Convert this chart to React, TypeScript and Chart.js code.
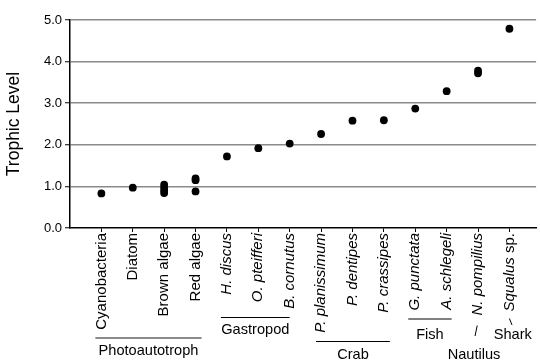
import React, { useEffect, useRef } from 'react';
import { Chart, registerables } from 'chart.js';

Chart.register(...registerables);

// ---------- data ----------
const categories = [
  'Cyanobacteria', 'Diatom', 'Brown algae', 'Red algae',
  'H. discus', 'O. pteifferi', 'B. cornutus',
  'P. planissimum', 'P. dentipes', 'P. crassipes',
  'G. punctata', 'A. schlegeli', 'N. pompilius', 'Squalus sp.',
];
const italicNames = [false, false, false, false, true, true, true, true, true, true, true, true, true, true];

const trophicLevels: number[][] = [
  [0.83],
  [0.97],
  [1.04, 0.97, 0.9, 0.84],
  [1.19, 1.15, 0.88],
  [1.72],
  [1.92],
  [2.03],
  [2.26],
  [2.58],
  [2.59],
  [2.87],
  [3.29],
  [3.78, 3.72],
  [4.79],
];

const yTickValues = [0, 1, 2, 3, 4, 5];

const groupNames = ['Photoautotroph', 'Gastropod', 'Crab', 'Fish', 'Nautilus', 'Shark'];
const groupFirst = [1, 5, 8, 11, 13, 14];
const groupLast = [4, 7, 10, 12, 13, 14];

// ---------- layout / style ----------
const FONT = "'Liberation Sans', Arial, Helvetica, sans-serif";
const TICK_FONT_SIZE = 15;
const GROUP_FONT_SIZE = 14.6;
type GroupStyle = {
  kind: 'line' | 'slash';
  dx0: number; dx1: number; lineY: number; textY: number; textDx: number;
  color: string; width: number;
  sx0?: number; sy0?: number; sx1?: number; sy1?: number;
};
const groupStyles: GroupStyle[] = [
  { kind: 'line', dx0: -6, dx1: 6, lineY: 338, textY: 351, textDx: 0, color: '#8a8a8a', width: 2 },
  { kind: 'line', dx0: -6, dx1: 0, lineY: 317.5, textY: 330, textDx: 0, color: '#000', width: 1 },
  { kind: 'line', dx0: -5, dx1: 6, lineY: 341.5, textY: 354.5, textDx: 0, color: '#000', width: 1 },
  { kind: 'line', dx0: -7, dx1: 5, lineY: 319, textY: 335, textDx: 0, color: '#000', width: 1 },
  { kind: 'slash', dx0: 0, dx1: 0, lineY: 0, textY: 355, textDx: -4, color: '#000', width: 1, sx0: -3, sy0: 336, sx1: -0.8, sy1: 325.5 },
  { kind: 'slash', dx0: 0, dx1: 0, lineY: 0, textY: 335, textDx: 3.4, color: '#000', width: 1, sx0: 0, sy0: 318.5, sx1: 2.6, sy1: 325 },
];

const groupPlugin = {
  id: 'groupLabels',
  afterDraw(chart: any) {
    const ctx = chart.ctx as CanvasRenderingContext2D;
    const xs = chart.scales.x;
    ctx.save();
    // last tick label with mixed italic / normal text
    const lastIdx = categories.length - 1;
    const px = xs.getPixelForValue(lastIdx + 1);
    const top = xs.top + 5;
    ctx.translate(px, top);
    ctx.rotate(-Math.PI / 2);
    ctx.textAlign = 'right';
    ctx.textBaseline = 'middle';
    ctx.fillStyle = '#000';
    ctx.font = `${TICK_FONT_SIZE}px ${FONT}`;
    const normalPart = ' sp.';
    const w = ctx.measureText(normalPart).width;
    ctx.fillText(normalPart, 0, 0);
    ctx.font = `italic ${TICK_FONT_SIZE}px ${FONT}`;
    ctx.fillText('Squalus', -w, 0);
    ctx.restore();

    ctx.save();
    ctx.font = `${GROUP_FONT_SIZE}px ${FONT}`;
    ctx.textAlign = 'center';
    ctx.textBaseline = 'middle';
    ctx.fillStyle = '#000';
    groupNames.forEach((name, i) => {
      const st = groupStyles[i];
      const a = xs.getPixelForValue(groupFirst[i]);
      const b = xs.getPixelForValue(groupLast[i]);
      ctx.strokeStyle = st.color;
      ctx.lineWidth = st.width;
      let cx: number;
      if (st.kind === 'line') {
        const x0 = a + st.dx0;
        const x1 = b + st.dx1;
        ctx.beginPath();
        ctx.moveTo(x0, st.lineY);
        ctx.lineTo(x1, st.lineY);
        ctx.stroke();
        cx = (x0 + x1) / 2 + st.textDx;
      } else {
        ctx.beginPath();
        ctx.moveTo(a + (st.sx0 as number), st.sy0 as number);
        ctx.lineTo(a + (st.sx1 as number), st.sy1 as number);
        ctx.stroke();
        cx = a + st.textDx;
      }
      ctx.fillText(name, cx, st.textY);
    });
    ctx.restore();
  },
};

export default function App() {
  const ref = useRef<HTMLCanvasElement>(null);
  useEffect(() => {
    const points: { x: number; y: number }[] = [];
    trophicLevels.forEach((vals, i) => vals.forEach((v) => points.push({ x: i + 1, y: v })));
    const chart = new Chart(ref.current as HTMLCanvasElement, {
      type: 'scatter',
      data: {
        datasets: [
          {
            data: points,
            backgroundColor: '#000',
            borderColor: '#000',
            borderWidth: 0,
            pointRadius: 3.9,
            pointHoverRadius: 3.9,
          },
        ],
      },
      options: {
        responsive: false,
        animation: false,
        devicePixelRatio: 1,
        events: [],
        layout: { padding: { top: 20, right: 0, left: 0, bottom: 0 } },
        plugins: { legend: { display: false }, tooltip: { enabled: false } },
        scales: {
          x: {
            type: 'linear',
            min: 0,
            max: 14.85,
            afterBuildTicks: (s: any) => {
              s.ticks = categories.map((_, i) => ({ value: i + 1 }));
            },
            afterFit: (s: any) => {
              s.height = 132;
            },
            border: { color: '#000', width: 1.5 },
            grid: { drawOnChartArea: false, drawTicks: true, tickLength: 4, tickColor: '#000', tickWidth: 1 },
            ticks: {
              autoSkip: false,
              minRotation: 90,
              maxRotation: 90,
              padding: 1,
              color: '#000',
              callback: (v: any) => {
                const i = Math.round(Number(v)) - 1;
                if (i === categories.length - 1) return '';
                return categories[i] ?? '';
              },
              font: (c: any) => ({ family: FONT, size: TICK_FONT_SIZE, style: italicNames[c.index] ? 'italic' : 'normal' }),
            },
          },
          y: {
            min: 0,
            max: 5,
            afterBuildTicks: (s: any) => {
              s.ticks = yTickValues.map((v) => ({ value: v }));
            },
            afterFit: (s: any) => {
              s.width = 70;
            },
            border: { color: '#000', width: 1.5 },
            grid: {
              color: (c: any) => (c.tick && c.tick.value === 0 ? 'rgba(0,0,0,0)' : '#8a8a8a'),
              lineWidth: 1.5,
              tickColor: '#000',
              tickLength: 5,
              tickWidth: 1,
              drawTicks: true,
            },
            ticks: {
              padding: 3,
              color: '#000',
              font: { family: FONT, size: 13 },
              callback: (v: any) => Number(v).toFixed(1),
            },
            title: {
              display: true,
              text: 'Trophic Level',
              color: '#000',
              font: { family: FONT, size: 17.5 },
              padding: { top: 4, bottom: 0 },
            },
          },
        },
      },
      plugins: [groupPlugin],
    } as any);
    return () => chart.destroy();
  }, []);
  return (
    <div style={{ position: 'fixed', left: 0, top: 0, width: 540, height: 360, background: '#fff' }}>
      <canvas ref={ref} width={540} height={360} style={{ display: 'block' }} />
    </div>
  );
}
